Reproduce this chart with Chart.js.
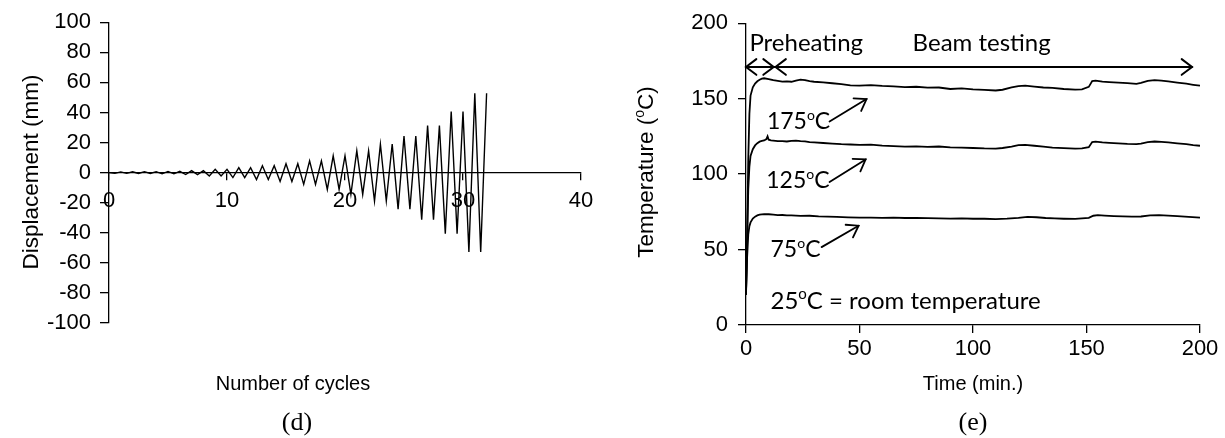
<!DOCTYPE html>
<html>
<head>
<meta charset="utf-8">
<script src="https://cdn.jsdelivr.net/npm/chart.js@4.4.1/dist/chart.umd.min.js"></script>
<style>
  html, body { margin: 0; padding: 0; background: #fff; }
  body { width: 1225px; height: 438px; position: relative; overflow: hidden; }
  canvas { position: absolute; top: 0; }
  #disp-chart { left: 0; }
  #temp-chart { left: 620px; }
</style>
</head>
<body>
<canvas id="disp-chart" width="620" height="438"></canvas>
<canvas id="temp-chart" width="605" height="438"></canvas>
<script>
// (d) cyclic loading protocol: peak displacement (mm) of each cycle
const cycleAmp = [0.5, 0.5, 0.6, 0.6, 0.8, 0.8, 1.3, 1.3, 2.2, 2.2, 3.3, 3.3,
  4.6, 4.6, 5.9, 5.9, 7.8, 7.8, 11.2, 11.2, 14.5, 14.5, 18.9, 18.9,
  24.3, 24.3, 31.3, 31.3, 40.6, 40.6, 52.8, 52.8];

// (e) temperature histories, time in minutes
const t175 = [0, 0.5, 1, 1.5, 2, 3, 4, 5, 6, 7, 8, 10, 12, 14, 16, 18, 20, 22, 24, 26, 28, 30,
  34, 38, 42, 46, 50, 55, 60, 65, 70, 75, 80, 85, 90, 95, 100, 105, 110, 113, 117, 120, 123,
  127, 131, 135, 140, 145, 148, 151, 152.5, 154, 157, 160, 164, 168, 172, 174, 177, 180, 183,
  186, 190, 194, 197, 200];
const temp175 = [20, 60, 110, 140, 152, 157.5, 160, 161.5, 162.5, 163.2, 163.5, 163, 162.2,
  161.8, 161.3, 161.5, 161.2, 162, 162.6, 162.3, 161.6, 161.2, 160.8, 160.2, 159.6, 158.8,
  158.6, 159, 158.4, 158.2, 157.6, 157.9, 157.3, 157.4, 156.4, 156.8, 156.2, 155.8, 155.4,
  155.9, 157.4, 158.3, 158.6, 158, 157.4, 157.1, 156.4, 156, 156.2, 157.8, 161.6, 161.9,
  161.3, 161, 160.6, 160.3, 159.8, 160.4, 161.8, 162.3, 162, 161.4, 160.6, 159.9, 159.2, 158.6];

const t125 = [0, 0.5, 1, 1.5, 2, 3, 4, 5, 6, 7, 8, 9, 9.5, 10, 11, 12, 14, 16, 18, 20, 22, 24,
  26, 28, 30, 34, 38, 42, 46, 50, 55, 60, 65, 70, 75, 80, 85, 90, 95, 100, 105, 110, 113, 117,
  120, 123, 127, 131, 135, 140, 145, 148, 151, 152.5, 154, 157, 160, 164, 168, 172, 174, 177,
  180, 183, 186, 190, 194, 197, 200];
const temp125 = [20, 55, 90, 105, 112, 116.5, 119, 120.5, 121.5, 122, 122.3, 123.2, 125, 122.8,
  122.4, 122.2, 121.8, 121.9, 121.6, 122, 122.2, 121.8, 121.7, 121.2, 121, 120.6, 120.2, 119.8,
  119.6, 119.4, 119.5, 118.9, 118.6, 118.2, 118.4, 118, 118.3, 117.7, 117.6, 117.3, 117, 116.9,
  117.3, 118.2, 119.2, 119.3, 118.8, 118.2, 117.6, 117.2, 116.9, 117, 117.8, 121.2, 121.5, 121,
  120.7, 120.4, 120, 119.8, 120.2, 121.2, 121.6, 121.4, 121, 120.4, 119.8, 119.2, 118.8];

const t75 = [0, 0.5, 1, 1.5, 2, 3, 4, 5, 6, 8, 10, 12, 14, 16, 18, 20, 24, 28, 32, 36, 40, 45,
  50, 55, 60, 65, 70, 75, 80, 85, 90, 95, 100, 105, 110, 115, 120, 124, 128, 132, 136, 140,
  145, 148, 151, 153, 155, 158, 162, 166, 170, 174, 178, 182, 186, 190, 195, 200];
const temp75 = [20, 45, 60, 65.5, 68, 70.5, 71.8, 72.6, 73.1, 73.5, 73.4, 73.1, 72.8, 72.9,
  72.6, 72.7, 72.3, 72.4, 72, 71.8, 71.6, 71.3, 71.1, 71.2, 71, 71.1, 70.9, 71, 70.8, 70.7,
  70.5, 70.6, 70.4, 70.4, 70.2, 70.5, 71, 71.6, 71.4, 70.9, 70.6, 70.4, 70.3, 70.6, 71, 72.4,
  72.8, 72.5, 72.2, 72, 71.8, 71.9, 72.6, 72.8, 72.5, 72.1, 71.6, 71.2];

const setPoints = ['175', '125', '75'];

const axisFont = { family: "'Liberation Sans', Arial, sans-serif", size: 22 };
const sansFont = "'Liberation Sans', Arial, sans-serif";
const serifFont = "'Liberation Serif', 'Times New Roman', serif";
const noteFont = "Lato, 'Open Sans', sans-serif";

Chart.defaults.color = '#000';
Chart.defaults.animation = false;

// draws a run of text where some pieces are superscript, e.g. the "o" of oC
function textRun(ctx, parts, x, y, size, family, align) {
  const supSize = Math.round(size * 0.62);
  let total = 0;
  const widths = parts.map(function (p) {
    ctx.font = (p[1] ? supSize : size) + 'px ' + family;
    const w = ctx.measureText(p[0]).width;
    total += w;
    return w;
  });
  let cx = align === 'center' ? x - total / 2 : x;
  ctx.textBaseline = 'alphabetic';
  ctx.textAlign = 'left';
  parts.forEach(function (p, i) {
    ctx.font = (p[1] ? supSize : size) + 'px ' + family;
    ctx.fillText(p[0], cx, p[1] ? y - size * 0.4 : y);
    cx += widths[i];
  });
}

function vertTitle(ctx, parts, x, y, size, family) {
  ctx.save();
  ctx.translate(x, y);
  ctx.rotate(-Math.PI / 2);
  textRun(ctx, parts, 0, 0, size, family, 'center');
  ctx.restore();
}

function chevron(ctx, x, y, ang, len, spread) {
  ctx.beginPath();
  ctx.moveTo(x - len * Math.cos(ang - spread), y - len * Math.sin(ang - spread));
  ctx.lineTo(x, y);
  ctx.lineTo(x - len * Math.cos(ang + spread), y - len * Math.sin(ang + spread));
  ctx.stroke();
}

// ---------- (d) displacement chart ----------
const dispPoints = [{ x: 0, y: 0 }];
cycleAmp.forEach(function (a, i) {
  dispPoints.push({ x: i + 0.5, y: -a });
  dispPoints.push({ x: i + 1, y: a });
});

const dispTitles = {
  id: 'dispTitles',
  afterDraw(chart) {
    const ctx = chart.ctx;
    ctx.save();
    ctx.fillStyle = '#000';
    vertTitle(ctx, [['Displacement (mm)']], 38, 172, 22.5, sansFont);
    textRun(ctx, [['Number of cycles']], 293, 390, 20, sansFont, 'center');
    textRun(ctx, [['(d)']], 297, 430, 26, serifFont, 'center');
    ctx.restore();
  }
};

new Chart(document.getElementById('disp-chart'), {
  type: 'scatter',
  data: {
    datasets: [{
      data: dispPoints,
      showLine: true,
      borderColor: '#000',
      borderWidth: 1.4,
      pointRadius: 0,
      tension: 0
    }]
  },
  options: {
    responsive: false,
    layout: { padding: { left: 0, top: 19, right: 39, bottom: 115 } },
    plugins: { legend: { display: false }, tooltip: { enabled: false } },
    scales: {
      x: {
        type: 'linear', min: 0, max: 40,
        position: { y: 0 },
        ticks: { stepSize: 10, font: axisFont, color: '#000', padding: 8, maxRotation: 0 },
        grid: { drawOnChartArea: false, tickLength: 7, color: '#000', lineWidth: 1.3 },
        border: { color: '#000', width: 1.3 }
      },
      y: {
        min: -100, max: 100,
        ticks: { stepSize: 20, font: axisFont, color: '#000', padding: 9 },
        grid: { drawOnChartArea: false, tickLength: 9, color: '#000', lineWidth: 1.3 },
        border: { color: '#000', width: 1.3 },
        afterFit: function (axis) { axis.width = 109; }
      }
    }
  },
  plugins: [dispTitles]
});

// ---------- (e) temperature chart ----------
function pairUp(ts, vs) {
  return ts.map(function (t, i) { return { x: t, y: vs[i] }; });
}

const tempNotes = {
  id: 'tempNotes',
  afterDraw(chart) {
    const ctx = chart.ctx;
    const px = function (v) { return chart.scales.x.getPixelForValue(v); };
    const py = function (v) { return chart.scales.y.getPixelForValue(v); };
    ctx.save();
    ctx.fillStyle = '#000';
    ctx.strokeStyle = '#000';
    ctx.lineCap = 'round';

    // preheating / beam testing arrows
    ctx.lineWidth = 2;
    const ay = py(171);
    ctx.beginPath();
    ctx.moveTo(px(0), ay);
    ctx.lineTo(px(196.5), ay);
    ctx.stroke();
    chevron(ctx, px(0), ay, Math.PI, 13, 0.65);
    chevron(ctx, px(12.2), ay, 0, 13, 0.65);
    chevron(ctx, px(13), ay, Math.PI, 13, 0.65);
    chevron(ctx, px(196.5), ay, 0, 13, 0.65);
    textRun(ctx, [['Preheating']], px(1.5), py(181.7), 24, noteFont, 'left');
    textRun(ctx, [['Beam testing']], px(73.4), py(181.7), 24, noteFont, 'left');

    // set point labels with pointer arrows
    const labelAt = [[9.2, 129.7], [8.9, 90.8], [10.8, 45.2]];
    const arrows = [[36.8, 134.8, 53.1, 149.7], [36.8, 94.8, 52.7, 109.7], [33.3, 51.6, 49.6, 65.8]];
    setPoints.forEach(function (s, i) {
      textRun(ctx, [[s], ['o', true], ['C']], px(labelAt[i][0]), py(labelAt[i][1]), 23, noteFont, 'left');
      const a = arrows[i];
      const x1 = px(a[0]), y1 = py(a[1]), x2 = px(a[2]), y2 = py(a[3]);
      ctx.lineWidth = 1.8;
      ctx.beginPath();
      ctx.moveTo(x1, y1);
      ctx.lineTo(x2, y2);
      ctx.stroke();
      chevron(ctx, x2, y2, Math.atan2(y2 - y1, x2 - x1), 13, 0.6);
    });
    textRun(ctx, [['25'], ['o', true], ['C = room temperature']], px(10.8), py(10.8), 24, noteFont, 'left');

    // axis titles and panel letter
    vertTitle(ctx, [['Temperature ('], ['o', true], ['C)']], 33, 172, 22.5, sansFont);
    textRun(ctx, [['Time (min.)']], 353, 390, 20, sansFont, 'center');
    textRun(ctx, [['(e)']], 353, 430, 26, serifFont, 'center');
    ctx.restore();
  }
};

const lineStyle = { showLine: true, borderColor: '#000', borderWidth: 1.8, pointRadius: 0, tension: 0 };

new Chart(document.getElementById('temp-chart'), {
  type: 'scatter',
  data: {
    datasets: [
      Object.assign({ label: '175', data: pairUp(t175, temp175) }, lineStyle),
      Object.assign({ label: '125', data: pairUp(t125, temp125) }, lineStyle),
      Object.assign({ label: '75', data: pairUp(t75, temp75) }, lineStyle)
    ]
  },
  options: {
    responsive: false,
    layout: { padding: { left: 0, top: 15, right: 25, bottom: 0 } },
    plugins: { legend: { display: false }, tooltip: { enabled: false } },
    scales: {
      x: {
        type: 'linear', min: 0, max: 200,
        ticks: { stepSize: 50, font: axisFont, color: '#000', padding: 3, maxRotation: 0 },
        grid: { drawOnChartArea: false, tickLength: 8, color: '#000', lineWidth: 1.3 },
        border: { color: '#000', width: 1.3 },
        afterFit: function (axis) { axis.height = 113; }
      },
      y: {
        min: 0, max: 200,
        ticks: { stepSize: 50, font: axisFont, color: '#000', padding: 10 },
        grid: { drawOnChartArea: false, tickLength: 8, color: '#000', lineWidth: 1.3 },
        border: { color: '#000', width: 1.3 },
        afterFit: function (axis) { axis.width = 126; }
      }
    }
  },
  plugins: [tempNotes]
});
</script>
</body>
</html>
